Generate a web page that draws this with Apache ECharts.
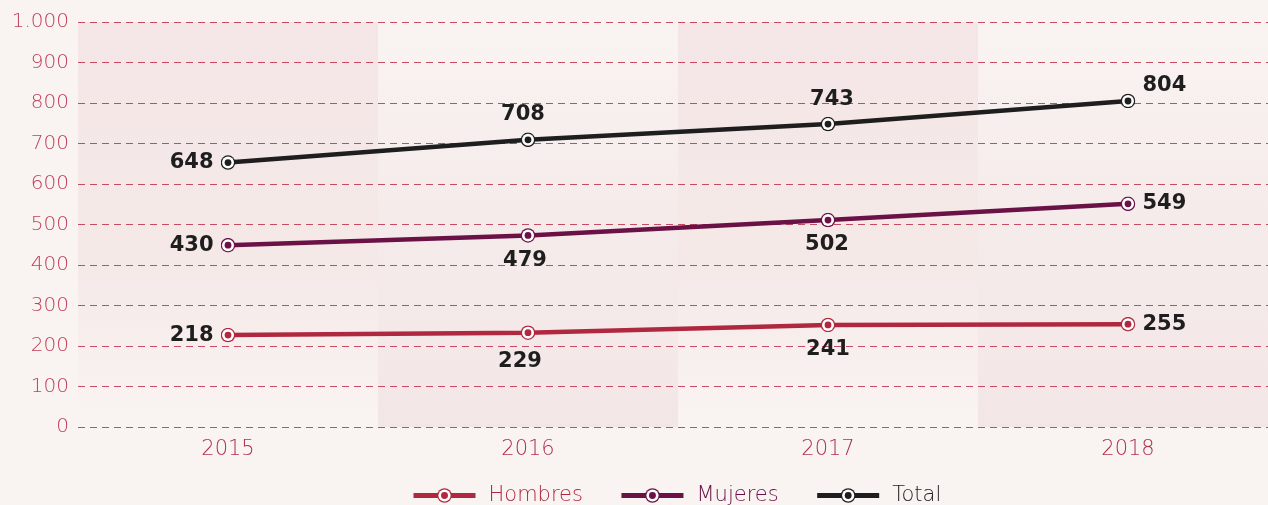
<!DOCTYPE html>
<html>
<head>
<meta charset="utf-8">
<script src="https://cdn.jsdelivr.net/npm/echarts@6/dist/echarts.min.js"></script>
<style>
html,body{margin:0;padding:0;background:#f9f4f2;}
#chart{width:1268px;height:505px;}
</style>
</head>
<body>
<div id="chart"></div>
<script>
const categories = ['2015', '2016', '2017', '2018'];
const hombres = [227, 233, 252, 254];
const mujeres = [449, 473, 511, 551];
const total = [653, 709, 748, 805];
const hombresLabels = ['218', '229', '241', '255'];
const mujeresLabels = ['430', '479', '502', '549'];
const totalLabels = ['648', '708', '743', '804'];
const yTicks = [0, 100, 200, 300, 400, 500, 600, 700, 800, 900, 1000];

const C_H = '#b0283f', C_M = '#6a1246', C_T = '#1e1e1e';
const yMax = yTicks[yTicks.length - 1];

function sym(color) {
  const svg = '<svg xmlns="http://www.w3.org/2000/svg" width="30" height="30" viewBox="0 0 30 30">' +
    '<circle cx="15" cy="15" r="14.5" fill="' + color + '"/>' +
    '<circle cx="15" cy="15" r="12" fill="#ffffff"/>' +
    '<circle cx="15" cy="15" r="6.8" fill="' + color + '"/></svg>';
  return 'image://data:image/svg+xml;charset=utf-8,' + encodeURIComponent(svg);
}

const darkTop = { type: 'linear', x: 0, y: 0, x2: 0, y2: 1,
  colorStops: [{ offset: 0, color: '#f4e6e6' }, { offset: 0.6, color: '#f5e9e8' }, { offset: 1, color: '#f9f4f2' }] };
const darkBottom = { type: 'linear', x: 0, y: 0, x2: 0, y2: 1,
  colorStops: [{ offset: 0, color: '#f9f4f2' }, { offset: 0.4, color: '#f6ecec' }, { offset: 1, color: '#f3e6e6' }] };

const labelFont = { fontFamily: 'DejaVu Sans', fontWeight: 'bold', fontSize: 21, color: '#1e1e1e' };

function series(name, color, values, texts, positions, offsets) {
  return {
    name: name, type: 'line', data: values.map((v, i) => ({
      value: v,
      label: { show: true, formatter: texts[i], position: positions[i], offset: offsets[i], distance: 7, ...labelFont }
    })),
    symbol: sym(color), symbolSize: 15, showAllSymbol: true,
    lineStyle: { color: color, width: 4.5 },
    itemStyle: { color: color },
    z: 5
  };
}

const chart = echarts.init(document.getElementById('chart'), null, { renderer: 'canvas' });
chart.setOption({
  backgroundColor: '#f9f4f2',
  animation: false,
  grid: { left: 78, top: 22, bottom: 78, width: 1200, containLabel: false, outerBoundsMode: 'none' },
  xAxis: {
    type: 'category', data: categories, boundaryGap: true, z: 3,
    axisLine: { show: false }, axisTick: { show: false },
    axisLabel: { color: '#b0304a', fontFamily: 'DejaVu Sans', fontWeight: 200, fontSize: 21, margin: 12 }
  },
  yAxis: {
    type: 'value', min: 0, max: yMax, interval: 100, z: 3,
    axisLine: { show: false }, axisTick: { show: false },
    axisLabel: {
      color: '#bf4058', fontFamily: 'DejaVu Sans', fontWeight: 200, fontSize: 20, margin: 9,
      formatter: v => String(v).replace(/\B(?=(\d{3})+(?!\d))/g, '.')
    },
    splitLine: { show: true, lineStyle: { color: 'rgba(185,35,65,0.8)', width: 1, type: [7, 5] } }
  },
  legend: {
    bottom: -6, left: 406, itemWidth: 62, itemHeight: 19, itemGap: 36,
    lineStyle: { width: 5 },
    data: [
      { name: 'Hombres', textStyle: { color: C_H } },
      { name: 'Mujeres', textStyle: { color: C_M } },
      { name: 'Total', textStyle: { color: C_T } }
    ],
    textStyle: { fontFamily: 'DejaVu Sans', fontWeight: 200, fontSize: 21, padding: [0, 0, 0, 8] }
  },
  series: [
    {
      name: 'bands', type: 'bar', silent: true, barWidth: '100%', barGap: '-100%', z: 1,
      data: categories.map((c, i) => ({ value: yMax, itemStyle: { color: i % 2 === 0 ? darkTop : darkBottom } })),
      label: { show: false }, emphasis: { disabled: true }
    },
    series('Hombres', C_H, hombres, hombresLabels, ['left', 'bottom', 'bottom', 'right'], [[0, 0], [-8, 4], [0, 0], [0, 0]]),
    series('Mujeres', C_M, mujeres, mujeresLabels, ['left', 'bottom', 'bottom', 'right'], [[0, 0], [-3, 0], [-1, 0], [0, 0]]),
    series('Total', C_T, total, totalLabels, ['left', 'top', 'top', 'right'], [[0, 0], [-5, 0], [4, 0], [0, -15]])
  ]
});
</script>
</body>
</html>
